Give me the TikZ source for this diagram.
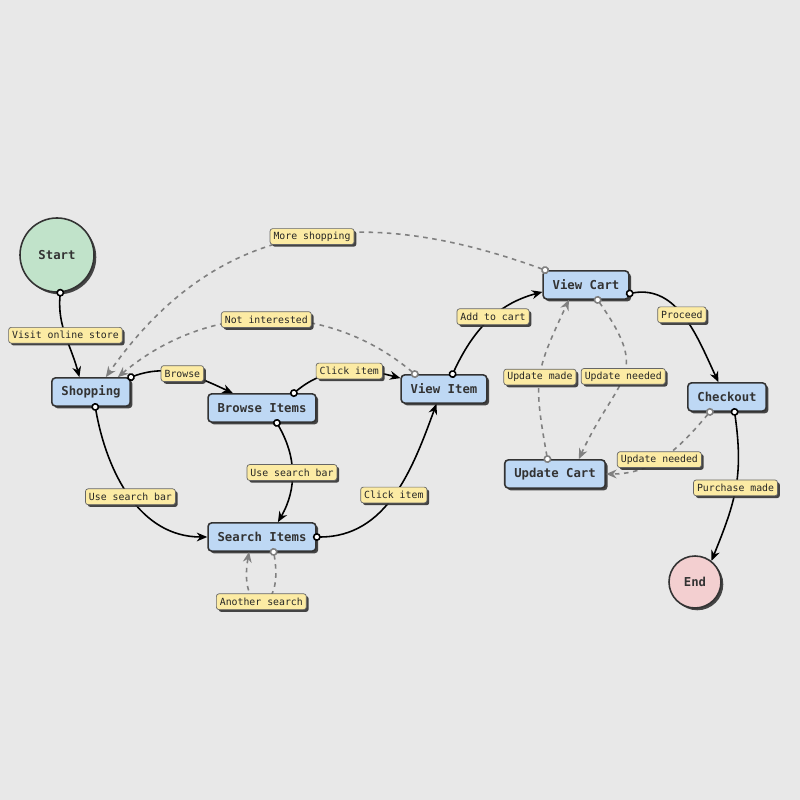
\documentclass[tikz,border=0pt]{standalone}
\usepackage{fontspec}
\setmonofont{DejaVu Sans Mono}
\usetikzlibrary{arrows.meta,shadows}
\definecolor{bgcol}{HTML}{E8E8E8}
\definecolor{statecol}{HTML}{BED8F4}
\definecolor{startcol}{HTML}{C1E3CA}
\definecolor{endcol}{HTML}{F3CFD0}
\definecolor{notecol}{HTML}{FCEBA4}
\definecolor{inkcol}{HTML}{333333}
\tikzset{
  shade box/.style={drop shadow={shadow xshift=1.3pt,shadow yshift=-1.3pt,fill=black!80,opacity=0.9}},
  state/.style={draw=inkcol, line width=0.9pt, fill=statecol, rounded corners=2pt, shade box,
    minimum height=16pt, inner xsep=5.4pt, inner ysep=1pt, text=inkcol,
    font=\fontsize{7}{8}\selectfont\ttfamily\bfseries},
  terminal/.style={circle, draw=inkcol, line width=0.9pt, shade box, inner sep=0pt, text=inkcol,
    font=\fontsize{7}{8}\selectfont\ttfamily\bfseries},
  lbl/.style={solid, draw=black!60, line width=0.4pt, fill=notecol, rounded corners=1.5pt, shade box,
    minimum height=9pt, inner xsep=2pt, inner ysep=1pt, text=black!85,
    font=\fontsize{5.6}{6}\selectfont\ttfamily},
  trans/.style={line width=0.9pt, shorten <=-2.2pt,
    {Circle[length=4.5pt,fill=white]}-{Stealth[length=6pt,width=5pt]}},
  back/.style={trans, draw=black!50, dash pattern=on 2.6pt off 2.6pt}
}
\begin{document}
\begin{tikzpicture}
  \fill[bgcol] (0,0) rectangle (16,16);

  \node[terminal, fill=startcol, minimum size=1.48cm] (start) at (1.14,10.90) {Start};
  \node[state] (shop) at (1.82,8.16) {Shopping};
  \node[state] (browse) at (5.24,7.84) {Browse Items};
  \node[state] (search) at (5.24,5.26) {Search Items};
  \node[state] (item) at (8.88,8.22) {View Item};
  \node[state] (cart) at (11.72,10.30) {View Cart};
  \node[state] (checkout) at (14.54,8.06) {Checkout};
  \node[state] (upd) at (11.10,6.52) {Update Cart};
  \node[terminal, fill=endcol, minimum size=1.04cm] (finish) at (13.90,4.36) {End};

  \draw[trans] (start.-85) to[out=-95,in=105] node[lbl] (lb1) {Visit online store} (shop.128);
  \draw[trans] (shop.north east) to[out=20,in=155] node[lbl] (lb2) {Browse} (browse.153);
  \draw[trans] (browse.25) to[out=40,in=165] node[lbl,pos=0.55] (lb3) {Click item} (item.166);
  \draw[trans] (browse.-45) to[out=-60,in=60] node[lbl] (lb4) {Use search bar} (search.43);
  \draw[trans] (shop.-74) to[out=-80,in=180] node[lbl] (lb5) {Use search bar} (search.west);
  \draw[trans] (search.east) to[out=0,in=-110] node[lbl] (lb6) {Click item} (item.-117);
  \draw[back] (search.-52) to[out=-80,in=-100,distance=1.35cm] node[lbl] (lb7) {Another search} (search.-131);
  \draw[trans] (item.60) to[out=65,in=195] node[lbl,pos=0.56] (lb8) {Add to cart} (cart.189);
  \draw[trans] (cart.-11) to[out=10,in=115] node[lbl,pos=0.47] (lb9) {Proceed} (checkout.120);
  \draw[back] (cart.-52) to[out=-55,in=65,looseness=1.5] node[lbl] (lb10) {Update needed} (upd.32);
  \draw[back] (upd.117) to[out=100,in=-115,looseness=1.3] node[lbl] (lb11) {Update made} (cart.-139);
  \draw[back] (checkout.-139) to[out=-130,in=0] node[lbl,pos=0.55] (lb12) {Update needed} (upd.east);
  \draw[trans] (checkout.-63) to[out=-82,in=68,looseness=1.1] node[lbl] (lb13) {Purchase made} (finish.52);
  \draw[back] (item.153) to[out=140,in=40] node[lbl] (lb14) {Not interested} (shop.29);
  \draw[back] (cart.160) to[out=160,in=55,looseness=1.1] node[lbl,pos=0.47] (lb15) {More shopping} (shop.45);
\end{tikzpicture}
\end{document}
